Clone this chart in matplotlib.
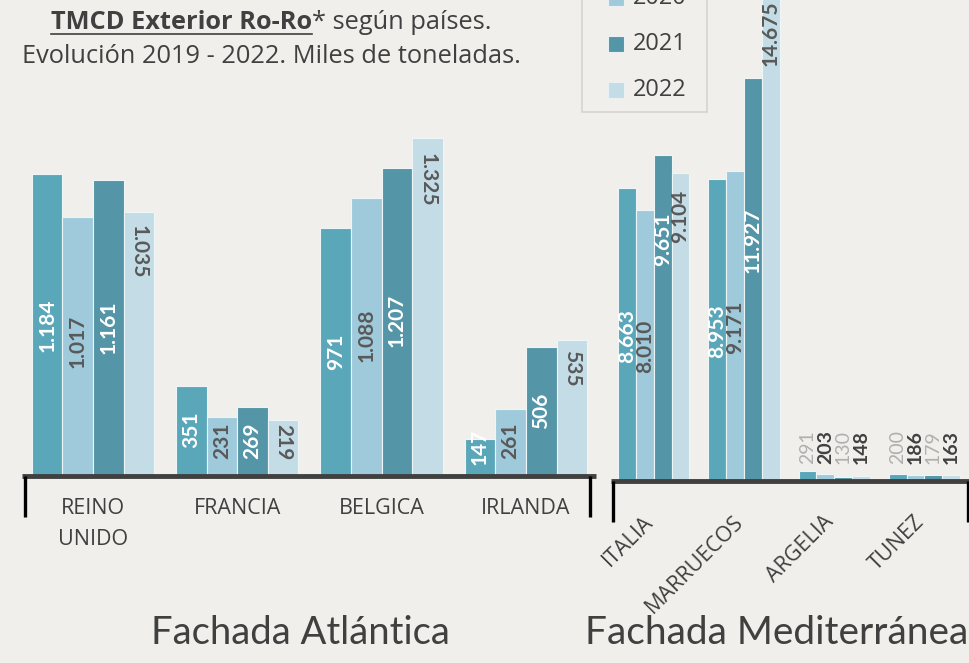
import matplotlib
matplotlib.use('Agg')
import matplotlib.pyplot as plt
from matplotlib.patches import Rectangle
from matplotlib.lines import Line2D
from matplotlib.transforms import ScaledTranslation
import numpy as np

plt.rcParams['font.family'] = ['Lato', 'DejaVu Sans']

# datos (miles de toneladas)
years = ['2019', '2020', '2021', '2022']
atl_paises = ['REINO\nUNIDO', 'FRANCIA', 'BELGICA', 'IRLANDA']
atl_vals = [
    [1184, 351, 971, 147],    # 2019
    [1017, 231, 1088, 261],   # 2020
    [1161, 269, 1207, 506],   # 2021
    [1035, 219, 1325, 535],   # 2022
]
med_paises = ['ITALIA', 'MARRUECOS', 'ARGELIA', 'TUNEZ']
med_vals = [
    [8663, 8953, 291, 200],      # 2019
    [8010, 9171, 203, 186],      # 2020
    [9651, 11927, 130, 179],     # 2021
    [9104, 14675, 148, 163],     # 2022
]

# altura de las etiquetas (en unidades de datos) tal como en el original
atl_lab_y = [
    [592, 180, 486, 114],
    [529, 137, 553, 137],
    [584, 137, 612, 255],
    [878, 133, 1160, 423],
]
med_lab_y = [
    [4292, 4440, 1006, 1006],
    [3996, 4558, 1006, 1006],
    [7163, 7134, 1006, 1006],
    [7844, 13261, 1006, 1006],
]

colors = ['#5aa7ba', '#9fcadb', '#5495a7', '#c4dce6']
bg = '#f0efeb'
dark = '#404040'
W, H = 969, 663
wide = ['Open Sans', 'DejaVu Sans']


def fmt(v):
    return f'{v:,}'.replace(',', '.')


def px(x, y):
    return x / W, 1 - y / H


fig = plt.figure(figsize=(9.69, 6.63), dpi=100, facecolor=bg)

ax1 = fig.add_axes([25 / W, 1 - 476 / H, 565 / W, 476 / H])
ax2 = fig.add_axes([612.7 / W, 1 - 481 / H, 355.3 / W, 481 / H])


def draw_group(ax, vals, lab_y, paises, width, xlim, ylim, small=None):
    ax.set_facecolor(bg)
    x = np.arange(len(paises))
    for i in range(4):
        off = (i - 1.5) * width
        ax.bar(x + off, vals[i], width, color=colors[i], edgecolor='#eef5f7', linewidth=0.8)
        for j, v in enumerate(vals[i]):
            fs = 15
            if small is not None and j in small:
                c = '#b0b0b0' if i in (0, 2) else dark
                w = 'normal' if i in (0, 2) else 'bold'
                fs = 14
            else:
                c = 'white' if i in (0, 2) else '#595959'
                w = 'bold'
            rot = 270 if (ax is ax1 and i == 3) else 90
            ax.text(x[j] + off, lab_y[i][j], fmt(v), rotation=rot, ha='center', va='center',
                    color=c, fontsize=fs, fontweight=w, clip_on=False)
    ax.set_xlim(*xlim)
    ax.set_ylim(0, ylim)
    for s in ax.spines.values():
        s.set_visible(False)
    ax.set_yticks([])
    ax.set_xticks(x)
    # linea base gruesa y marcas verticales en los extremos
    ax.plot([-0.006, 1.01], [0, 0], transform=ax.transAxes, color=dark, lw=3.5,
            clip_on=False, solid_capstyle='butt')
    hgt = ax.get_position().height * H
    for xe in (0, 1):
        ax.plot([xe, xe], [0, -41 / hgt], transform=ax.transAxes, color='black', lw=2.4,
                clip_on=False, solid_capstyle='butt')


draw_group(ax1, atl_vals, atl_lab_y, atl_paises, 0.212, (-0.471, 3.444), 1866)
draw_group(ax2, med_vals, med_lab_y, med_paises, 0.197, (-0.456, 3.483), 14237, small=(2, 3))

ax1.set_xticklabels(atl_paises, fontsize=15.5, color=dark, linespacing=1.62, family=wide)
ax1.tick_params(axis='x', length=0, pad=16)
ax2.set_xticklabels(med_paises, fontsize=15.5, color=dark, rotation=45, ha='right',
                    va='top', rotation_mode='anchor', family=wide)
ax2.tick_params(axis='x', length=0, pad=22)
for lbl in ax2.get_xticklabels():
    lbl.set_transform(lbl.get_transform() + ScaledTranslation(-0.11, 0, fig.dpi_scale_trans))

# titulos inferiores
fig.text(*px(300, 644), 'Fachada Atlántica', fontsize=27.5, color=dark, ha='center', va='baseline')
fig.text(*px(777, 644), 'Fachada Mediterránea', fontsize=28, color=dark, ha='center', va='baseline')

# titulo superior con subrayado
r = fig.canvas.get_renderer()
t1 = fig.text(0, 0, 'TMCD Exterior Ro-Ro', fontsize=18.3, fontweight='bold', color=dark,
              va='baseline', family=wide)
t2 = fig.text(0, 0, '* según países.', fontsize=18.3, color=dark, va='baseline', family=wide)
w1 = t1.get_window_extent(r).width
w2 = t2.get_window_extent(r).width
x0 = 271 - (w1 + w2) / 2
t1.set_position(px(x0, 29))
t2.set_position(px(x0 + w1, 29))
fig.add_artist(Line2D([x0 / W, (x0 + w1) / W], [1 - 34 / H, 1 - 34 / H], color=dark, lw=1.2,
                      transform=fig.transFigure))
fig.text(*px(271, 63), 'Evolución 2019 - 2022. Miles de toneladas.', fontsize=18.3, color=dark,
         ha='center', va='baseline', family=wide)

# leyenda (la parte superior queda cortada como en el original)
fig.add_artist(Rectangle(px(582, 112), 125 / W, 200 / H, transform=fig.transFigure,
                         facecolor=bg, edgecolor='#d4d4d4', lw=1.2))
for i, yr in enumerate(years):
    yc = 90 - 46 * (3 - i)
    fig.add_artist(Rectangle(px(608, yc + 8), 16 / W, 16 / H, transform=fig.transFigure,
                             facecolor=colors[i], edgecolor='#e8f0f2', lw=0.8))
    fig.text(*px(633, yc), yr, fontsize=17, color=dark, va='center', family=wide)

fig.savefig('out.png', dpi=100, facecolor=bg)
